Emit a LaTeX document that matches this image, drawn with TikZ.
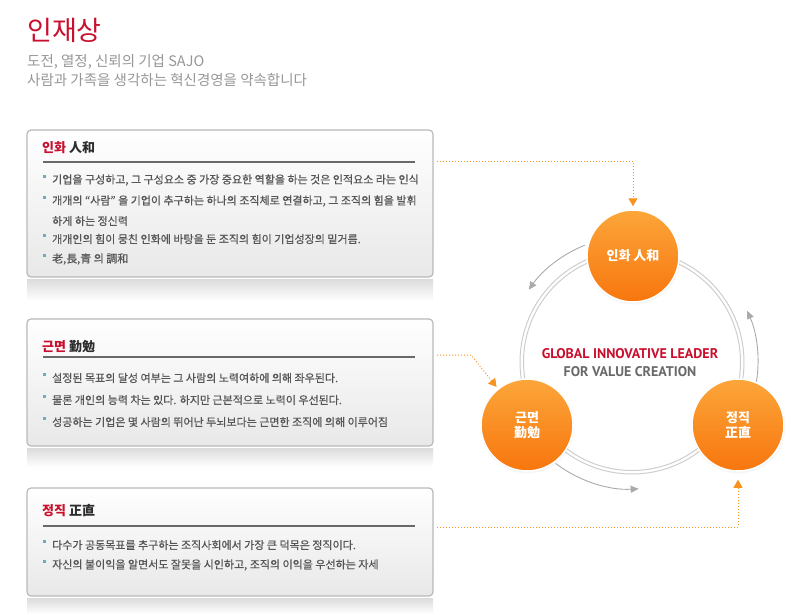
\documentclass[tikz,border=0pt]{standalone}
\usepackage{fontspec}
\setmainfont{Noto Sans CJK KR}
\newfontfamily\krmid[FakeBold=0.6]{Noto Sans CJK KR}
\newfontfamily\lat{PT Sans}
\usetikzlibrary{arrows.meta,shadows}
\definecolor{titlered}{RGB}{200,16,46}
\definecolor{subgray}{RGB}{150,150,150}
\definecolor{txtgray}{RGB}{85,85,85}
\definecolor{headc}{RGB}{45,45,45}
\definecolor{rulec}{RGB}{105,105,105}
\definecolor{cardline}{RGB}{185,185,185}
\definecolor{bulc}{RGB}{110,172,182}
\definecolor{orgtop}{RGB}{252,166,58}
\definecolor{orgbot}{RGB}{247,118,14}
\definecolor{orgline}{RGB}{247,147,30}
\definecolor{ringc}{RGB}{205,205,205}
\definecolor{turnc}{RGB}{170,170,170}
\tikzset{
  card/.style={draw=cardline, line width=1.2pt, rounded corners=4pt,
    top color=white, middle color=white, bottom color=black!9,
    minimum width=406, minimum height=#1},
  head/.style={anchor=west, inner sep=0, text=headc,
    font=\bfseries\fontsize{13}{15}\selectfont},
  rulel/.style={draw=rulec, line width=2pt},
  item/.style={anchor=west, inner sep=0, text=txtgray,
    font=\krmid\fontsize{11}{13}\selectfont},
  sub/.style={anchor=west, inner sep=0, text=subgray,
    font=\fontsize{14.5}{16}\selectfont},
  orb/.style={circle, minimum size=92, top color=orgtop, bottom color=orgbot,
    draw=white, line width=1.5pt, text=white, align=center,
    font=\bfseries\fontsize{13}{15}\selectfont,
    circular drop shadow={shadow xshift=0pt, shadow yshift=-1pt, shadow scale=1.04, opacity=.25}},
  ringl/.style={draw=ringc, line width=1pt},
  turn/.style={draw=turnc, line width=0.9pt, -{Triangle[length=8pt,width=7pt]}},
  link/.style={draw=orgline, line width=1pt, dash pattern=on 1pt off 2pt,
    -{Triangle[length=8pt,width=9pt]}}
}
\begin{document}
\begin{tikzpicture}[x=1pt,y=-1pt]
\useasboundingbox (0,0) rectangle (805,614);

\node[anchor=west, inner sep=0, text=titlered, font=\fontsize{27}{30}\selectfont] (title) at (27,30) {인재상};
\node[sub] (sub1) at (27,62) {도전, 열정, 신뢰의 기업 SAJO};
\node[sub] (sub2) at (27,80) {사람과 가족을 생각하는 혁신경영을 약속합니다};

% cards
\shade[top color=black!14, bottom color=white] (27,279) rectangle (433,301);
\shade[top color=black!14, bottom color=white] (27,448) rectangle (433,467);
\shade[top color=black!14, bottom color=white] (27,598) rectangle (433,614);
\node[card=147] (card1) at (230,203.5) {};
\node[card=127] (card2) at (230,382.5) {};
\node[card=108] (card3) at (230,542) {};

\node[head] (h1) at (42,148) {\textcolor{titlered}{인화} 人和};
\draw[rulel] (43,161.5) -- (415,161.5);
\foreach \y/\t in {180/{기업을 구성하고, 그 구성요소 중 가장 중요한 역할을 하는 것은 인적요소 라는 인식},
    201/{개개의 “사람” 을 기업이 추구하는 하나의 조직체로 연결하고, 그 조직의 힘을 발휘},
    239/{개개인의 힘이 뭉친 인화에 바탕을 둔 조직의 힘이 기업성장의 밑거름.},
    259/{老,長,青 의 調和}}{
  \fill[bulc] (43,\y-5) rectangle ++(3,3);
  \node[item] (a\y) at (52,\y) {\t};
}
\node[item] (a221) at (52,221) {하게 하는 정신력};

\node[head] (h2) at (42,347) {\textcolor{titlered}{근면} 勤勉};
\draw[rulel] (43,356.5) -- (415,356.5);
\foreach \y/\t in {378/{설정된 목표의 달성 여부는 그 사람의 노력여하에 의해 좌우된다.},
    400/{물론 개인의 능력 차는 있다. 하지만 근본적으로 노력이 우선된다.},
    422/{성공하는 기업은 몇 사람의 뛰어난 두뇌보다는 근면한 조직에 의해 이루어짐}}{
  \fill[bulc] (43,\y-5) rectangle ++(3,3);
  \node[item] (b\y) at (52,\y) {\t};
}

\node[head] (h3) at (42,511) {\textcolor{titlered}{정직} 正直};
\draw[rulel] (43,526) -- (415,526);
\foreach \y/\t in {545/{다수가 공동목표를 추구하는 조직사회에서 가장 큰 덕목은 정직이다.},
    565/{자신의 불이익을 알면서도 잘못을 시인하고, 조직의 이익을 우선하는 자세}}{
  \fill[bulc] (43,\y-5) rectangle ++(3,3);
  \node[item] (c\y) at (52,\y) {\t};
}

% cycle
\coordinate (ring) at (632,362);
\draw[ringl] (ring) circle[radius=112];
\draw[ringl] (ring) circle[radius=108.5];
\draw[turn] (ring) ++(-112:126) arc[start angle=-112, end angle=-145, radius=126];
\draw[turn] (ring) ++(9:126) arc[start angle=9, end angle=-24, radius=126];
\draw[turn] (ring) ++(-233:127) arc[start angle=-233, end angle=-273, radius=127];

\node[orb] (inhwa) at (633,256) {인화 人和};
\node[orb] (geunmyeon) at (527,425) {근면\\勤勉};
\node[orb] (jeongjik) at (738,425) {정직\\正直};

\node[text=titlered, font=\lat\bfseries\fontsize{14}{16}\selectfont] (vision1) at (630,354) {GLOBAL INNOVATIVE LEADER};
\node[text=rulec, font=\lat\bfseries\fontsize{14}{16}\selectfont] (vision2) at (630,372) {FOR VALUE CREATION};

% links
\coordinate (from1) at (437,161);
\coordinate (from2) at (437,355);
\coordinate (bend2) at (471,355);
\coordinate (from3) at (437,527);
\draw[link, shorten >=3pt] (from1) -| (inhwa);
\draw[link, shorten >=2pt] (from2) -- (bend2) -- (geunmyeon);
\draw[link, shorten >=8pt] (from3) -| (jeongjik);
\end{tikzpicture}
\end{document}
